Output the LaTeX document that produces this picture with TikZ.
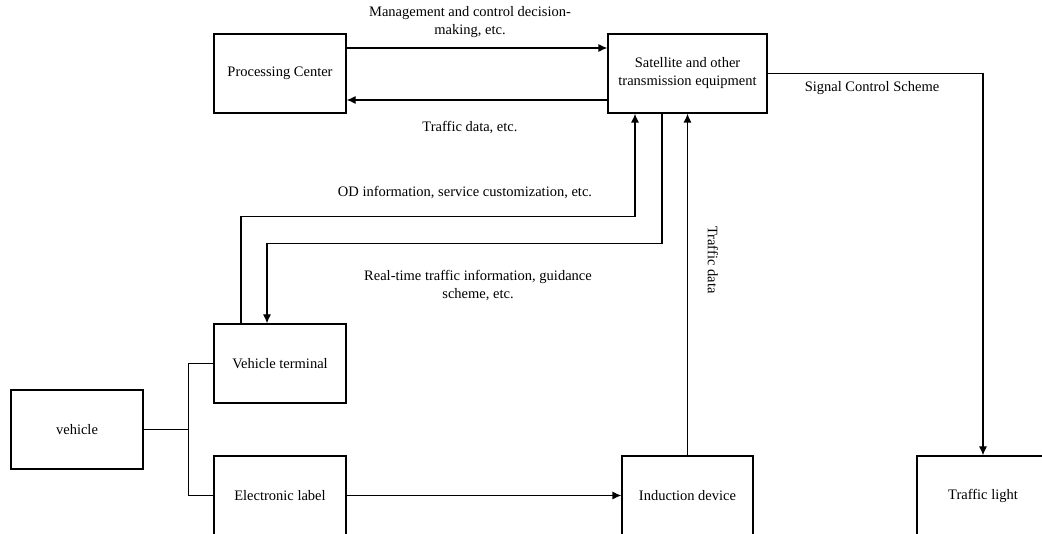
\documentclass[tikz,border=0pt]{standalone}
\usepackage{fontspec}
\setmainfont{Liberation Serif}
\usetikzlibrary{arrows.meta}
\tikzset{
	box/.style={draw,minimum width=132pt,minimum height=79pt,inner sep=2pt,align=center},
	lbl/.style={align=center,inner sep=1pt},
}
\begin{document}
\begin{tikzpicture}[>={Latex[length=9pt,width=8pt]},x=1pt,y=-1pt,font=\fontsize{14.5}{18}\selectfont,line width=1.2pt]
		\clip (0,0) rectangle (1042,534);
		\node[box] (pc) at (280,73.5) {Processing Center};
		\node[box,minimum width=159pt] (sat) at (687.5,73.5) {Satellite and other\\transmission equipment};
		\node[box] (vt) at (280,363.5) {Vehicle terminal};
		\node[box] (veh) at (77,429.5) {vehicle};
		\node[box] (el) at (280,495.5) {Electronic label};
		\node[box,minimum width=131pt] (ind) at (687.5,495.5) {Induction device};
		\node[box] (tl) at (983,495.5) {Traffic light};
		% links
		\draw[->] (pc.east|-0,48)--(sat.west|-0,48);
		\draw[->] (sat.west|-0,100)--(pc.east|-0,100);
		\draw[->] ([xshift=-39pt]vt.north)--++(0,-107)-|([xshift=-52.5pt]sat.south);
		\draw[->] ([xshift=-25.5pt]sat.south)--++(0,130)-|([xshift=-13pt]vt.north);
		\draw[->] (ind.north)--(ind.north|-sat.south);
		\draw[->] (sat.east)-|(tl.north);
		\draw[->] (el.east)--(ind.west);
		\draw[] (veh.east)--++(45,0)coordinate(jn);
		\draw[] (vt.west)-|(jn)|-(el.west);
		% labels
		\node[lbl] (lmc) at (470,22) {Management and control decision-\\making, etc.};
		\node[lbl] (ltd) at (470,128) {Traffic data, etc.};
		\node[lbl] (lod) at (465,193) {OD information, service customization, etc.};
		\node[lbl] (lrt) at (478,286) {Real-time traffic information, guidance\\scheme, etc.};
		\node[lbl,rotate=-90] (ltr) at (713,260) {Traffic data};
		\node[lbl] (lsc) at (872,88) {Signal Control Scheme};
	\end{tikzpicture}
\end{document}
